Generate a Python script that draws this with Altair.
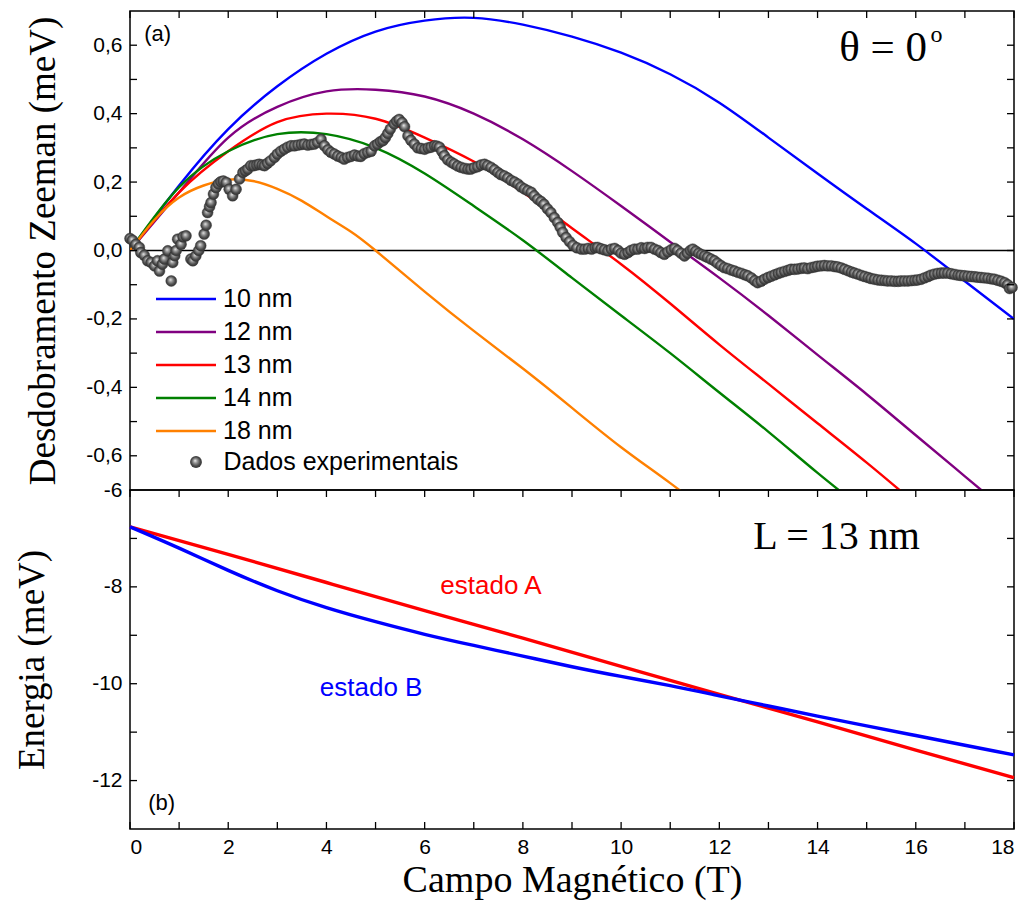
import altair as alt
import pandas as pd

# ---------------- data ----------------
field_T = list(range(19))
zeeman_10nm = [0, 0.19, 0.355, 0.48, 0.575, 0.64, 0.672, 0.68, 0.66, 0.625, 0.578,
               0.515, 0.432, 0.33, 0.225, 0.122, 0.02, -0.09, -0.2]
zeeman_12nm = [0, 0.17, 0.33, 0.42, 0.465, 0.47, 0.45, 0.40, 0.325, 0.232, 0.13,
               0.025, -0.08, -0.19, -0.305, -0.42, -0.54, -0.66, -0.78]
zeeman_13nm = [0, 0.17, 0.29, 0.375, 0.40, 0.385, 0.33, 0.26, 0.17, 0.065, -0.04,
               -0.155, -0.275, -0.39, -0.505, -0.62, -0.74, -0.86, -0.98]
zeeman_14nm = [0, 0.185, 0.29, 0.34, 0.34, 0.30, 0.225, 0.13, 0.03, -0.08, -0.19,
               -0.30, -0.415, -0.53, -0.65, -0.765, -0.88, -0.995, -1.11]
field_18nm = [0, 0.5, 1, 1.5, 2, 2.5, 3, 3.5, 4, 4.5, 5, 6, 7, 8, 9, 10, 11, 12]
zeeman_18nm = [0, 0.09, 0.155, 0.19, 0.207, 0.203, 0.18, 0.145, 0.10, 0.055, 0.0,
               -0.12, -0.235, -0.345, -0.46, -0.575, -0.68, -0.79]

exp_field = [0.00, 0.05, 0.12, 0.19, 0.22, 0.29, 0.36, 0.43, 0.50, 0.56, 0.60, 0.66, 0.70, 0.77,
             0.84, 0.87, 0.91, 0.94, 0.97, 1.04, 1.08, 1.14, 1.24, 1.28, 1.34, 1.40, 1.44, 1.51,
             1.55, 1.58, 1.62, 1.65, 1.70, 1.75, 1.80, 1.85, 1.90, 1.96, 2.02, 2.09, 2.16, 2.23,
             2.30, 2.35, 2.40, 2.46, 2.52, 2.58, 2.63, 2.69, 2.74, 2.80, 2.86, 2.94, 3.00, 3.07,
             3.14, 3.21, 3.28, 3.35, 3.42, 3.49, 3.55, 3.62, 3.69, 3.75, 3.82, 3.89, 3.96, 4.03,
             4.09, 4.16, 4.23, 4.30, 4.36, 4.43, 4.50, 4.57, 4.64, 4.70, 4.77, 4.84, 4.91, 4.98,
             5.04, 5.10, 5.15, 5.20, 5.25, 5.30, 5.38, 5.43, 5.48, 5.54, 5.59, 5.66, 5.72, 5.79,
             5.86, 5.93, 6.00, 6.07, 6.13, 6.20, 6.25, 6.30, 6.35, 6.40, 6.47, 6.54, 6.60, 6.67,
             6.74, 6.81, 6.88, 6.94, 7.01, 7.08, 7.15, 7.22, 7.28, 7.35, 7.42, 7.49, 7.55, 7.62,
             7.69, 7.76, 7.83, 7.90, 7.96, 8.03, 8.10, 8.17, 8.23, 8.30, 8.37, 8.43, 8.50, 8.57,
             8.64, 8.71, 8.76, 8.81, 8.88, 8.95, 9.02, 9.10, 9.19, 9.26, 9.33, 9.40, 9.47, 9.52,
             9.59, 9.66, 9.73, 9.80, 9.87, 9.94, 10.00, 10.07, 10.14, 10.20, 10.27, 10.34, 10.41,
             10.48, 10.54, 10.61, 10.68, 10.75, 10.81, 10.88, 10.95, 11.02, 11.09, 11.15, 11.22,
             11.29, 11.35, 11.41, 11.46, 11.52, 11.58, 11.64, 11.70, 11.76, 11.83, 11.90, 11.96,
             12.03, 12.10, 12.17, 12.24, 12.31, 12.38, 12.45, 12.52, 12.58, 12.65, 12.72, 12.78,
             12.85, 12.92, 12.99, 13.06, 13.13, 13.20, 13.26, 13.33, 13.40, 13.46, 13.53, 13.60,
             13.67, 13.73, 13.80, 13.87, 13.94, 14.00, 14.07, 14.14, 14.21, 14.28, 14.35, 14.41,
             14.48, 14.55, 14.62, 14.69, 14.75, 14.82, 14.89, 14.96, 15.03, 15.09, 15.16, 15.23,
             15.30, 15.37, 15.43, 15.50, 15.57, 15.64, 15.70, 15.77, 15.84, 15.91, 15.98, 16.04,
             16.11, 16.18, 16.25, 16.31, 16.38, 16.45, 16.52, 16.58, 16.65, 16.72, 16.79, 16.86,
             16.92, 16.99, 17.06, 17.13, 17.20, 17.26, 17.33, 17.40, 17.47, 17.54, 17.60, 17.67,
             17.74, 17.81, 17.87, 17.91, 17.96]
exp_zeeman = [0.035, 0.030, 0.018, 0.009, -0.006, -0.014, -0.030, -0.035, -0.045, -0.030, -0.060,
              -0.040, -0.025, -0.001, -0.089, -0.035, -0.015, 0.000, 0.033, 0.018, 0.040, 0.043,
              -0.025, -0.030, -0.016, 0.000, 0.014, 0.048, 0.074, 0.111, 0.128, 0.140, 0.165,
              0.184, 0.195, 0.201, 0.203, 0.199, 0.179, 0.160, 0.179, 0.209, 0.228, 0.233, 0.238,
              0.248, 0.248, 0.250, 0.252, 0.250, 0.248, 0.255, 0.262, 0.272, 0.282, 0.290, 0.296,
              0.302, 0.306, 0.306, 0.308, 0.310, 0.311, 0.308, 0.310, 0.311, 0.316, 0.325, 0.306,
              0.294, 0.287, 0.282, 0.276, 0.272, 0.267, 0.272, 0.275, 0.279, 0.276, 0.275, 0.283,
              0.287, 0.290, 0.306, 0.311, 0.318, 0.321, 0.330, 0.342, 0.355, 0.370, 0.378, 0.383,
              0.374, 0.362, 0.335, 0.322, 0.311, 0.300, 0.298, 0.296, 0.300, 0.302, 0.306, 0.305,
              0.302, 0.290, 0.277, 0.265, 0.258, 0.253, 0.247, 0.243, 0.240, 0.238, 0.238, 0.242,
              0.245, 0.250, 0.252, 0.248, 0.243, 0.236, 0.228, 0.222, 0.218, 0.212, 0.205, 0.200,
              0.194, 0.186, 0.180, 0.175, 0.170, 0.160, 0.150, 0.143, 0.135, 0.122, 0.111, 0.096,
              0.082, 0.068, 0.053, 0.038, 0.026, 0.015, 0.008, 0.004, 0.004, 0.006, 0.004, 0.008,
              0.009, 0.005, 0.002, -0.001, 0.004, 0.006, 0.000, -0.008, -0.011, -0.006, 0.000,
              0.004, 0.004, 0.008, 0.006, 0.009, 0.009, 0.004, 0.000, -0.006, -0.011, -0.004,
              0.002, 0.006, 0.000, -0.008, -0.016, -0.008, 0.000, 0.004, -0.002, -0.008, -0.012,
              -0.016, -0.020, -0.025, -0.030, -0.037, -0.044, -0.050, -0.053, -0.057, -0.060,
              -0.064, -0.067, -0.071, -0.074, -0.080, -0.088, -0.094, -0.090, -0.084, -0.079,
              -0.075, -0.071, -0.067, -0.064, -0.061, -0.058, -0.055, -0.055, -0.054, -0.052,
              -0.051, -0.053, -0.050, -0.048, -0.046, -0.045, -0.044, -0.045, -0.045, -0.047,
              -0.048, -0.051, -0.055, -0.059, -0.063, -0.066, -0.069, -0.073, -0.076, -0.079,
              -0.082, -0.084, -0.086, -0.087, -0.088, -0.089, -0.089, -0.090, -0.090, -0.089,
              -0.089, -0.089, -0.088, -0.087, -0.086, -0.084, -0.080, -0.076, -0.072, -0.069,
              -0.067, -0.066, -0.066, -0.066, -0.068, -0.070, -0.072, -0.073, -0.074, -0.075,
              -0.076, -0.077, -0.078, -0.079, -0.080, -0.081, -0.083, -0.084, -0.087, -0.090,
              -0.094, -0.100, -0.111, -0.108]

field_A = [0, 2, 4, 6, 8, 10, 12, 14, 16, 18]
energia_A = [-6.76, -7.33, -7.91, -8.49, -9.06, -9.64, -10.22, -10.79, -11.37, -11.94]
energia_B = [-6.76, -7.2, -7.66, -8.08, -8.43, -8.72, -8.98, -9.21, -9.43, -9.65, -9.85,
             -10.04, -10.25, -10.46, -10.67, -10.87, -11.07, -11.27, -11.47]

series_names = ["10 nm", "12 nm", "13 nm", "14 nm", "18 nm"]
series_colors = ["#0000ff", "#800080", "#ff0000", "#008000", "#ff8000"]

tick_T = list(range(19))
tick_dE = [-0.6, -0.5, -0.4, -0.3, -0.2, -0.1, 0.0, 0.1, 0.2, 0.3, 0.4, 0.5, 0.6]
tick_E = [-12, -11, -10, -9, -8, -7]
label_T = [0, 2, 4, 6, 8, 10, 12, 14, 16, 18]
label_dE = [-0.6, -0.4, -0.2, 0.0, 0.2, 0.4, 0.6]
label_E = [-12, -10, -8, -6]

# ---------------- tables ----------------
rows = []
for name, xs, ys in zip(series_names,
                        [field_T, field_T, field_T, field_T, field_18nm],
                        [zeeman_10nm, zeeman_12nm, zeeman_13nm, zeeman_14nm, zeeman_18nm]):
    rows += [{"B": x, "dE": y, "serie": name} for x, y in zip(xs, ys)]
curves_df = pd.DataFrame(rows)
exp_df = pd.DataFrame({"B": exp_field, "dE": exp_zeeman, "tipo": "Dados experimentais"})
zero_df = pd.DataFrame({"dE": [0.0]})
tT_df = pd.DataFrame({"B": tick_T})
tdE_df = pd.DataFrame({"dE": tick_dE})
tE_df = pd.DataFrame({"E": tick_E})
A_df = pd.DataFrame({"B": field_A, "E": energia_A})
B_df = pd.DataFrame({"B": field_T, "E": energia_B})

W, H1, H2 = 884, 479, 339
SANS = "Liberation Sans"
SERIF = "Liberation Serif"
MINUS = "\u2212"

xscale = alt.Scale(domain=[0, 18], nice=False, zero=False)
y1scale = alt.Scale(domain=[-0.7, 0.7], nice=False, zero=False)
y2scale = alt.Scale(domain=[-13, -6], nice=False, zero=False)

y1_axis = alt.Axis(values=label_dE,
                   labelExpr=f"replace(replace(format(datum.value, '.1f'), '.', ','), '{MINUS}', '-')",
                   ticks=False, tickSize=0, domain=False, grid=False, labelPadding=8,
                   title="Desdobramento Zeeman (meV)", titleFont=SERIF, titleFontSize=37,
                   titleFontWeight="normal", titleAngle=270, titleX=-76, titleY=H1 / 2,
                   titleAlign="center", titleBaseline="alphabetic")
y2_axis = alt.Axis(values=label_E,
                   labelExpr=f"replace(format(datum.value, 'd'), '{MINUS}', '-')",
                   ticks=False, tickSize=0, domain=False, grid=False, labelPadding=8,
                   title="Energia (meV)", titleFont=SERIF, titleFontSize=37,
                   titleFontWeight="normal", titleAngle=270, titleX=-87, titleY=H2 / 2,
                   titleAlign="center", titleBaseline="alphabetic")
x2_axis = alt.Axis(values=label_T, format="d", ticks=False, tickSize=0, domain=False,
                   grid=False, labelPadding=7,
                   title="Campo Magnético (T)", titleFont=SERIF, titleFontSize=38,
                   titleFontWeight="normal", titleX=W / 2, titleY=62,
                   titleAlign="center", titleBaseline="alphabetic")

X1 = alt.X("B:Q", scale=xscale, axis=None)
Y1 = alt.Y("dE:Q", scale=y1scale, axis=y1_axis)
X2 = alt.X("B:Q", scale=xscale, axis=x2_axis)
Y2 = alt.Y("E:Q", scale=y2scale, axis=y2_axis)

sphere = alt.RadialGradient(
    gradient="radial",
    stops=[alt.GradientStop(color="#eeeeee", offset=0),
           alt.GradientStop(color="#9a9a9a", offset=0.3),
           alt.GradientStop(color="#474747", offset=0.7),
           alt.GradientStop(color="#333333", offset=1)],
    x1=0.42, y1=0.38, r1=0, x2=0.5, y2=0.5, r2=0.55)

# ---------------- top panel ----------------
zero_line = alt.Chart(zero_df).mark_rule(color="black", strokeWidth=1.4).encode(y=Y1)

lines = alt.Chart(curves_df).mark_line(strokeWidth=2.4, clip=True, interpolate="natural").encode(
    x=X1, y=Y1,
    color=alt.Color("serie:N",
                    scale=alt.Scale(domain=series_names, range=series_colors),
                    legend=alt.Legend(title=None, orient="none", legendX=24.5, legendY=271.5,
                                      symbolType="stroke", symbolSize=3600,
                                      symbolStrokeWidth=2.5, rowPadding=0, clipHeight=33,
                                      labelOffset=5.5, labelFont=SANS, labelFontSize=25,
                                      labelColor="black", labelLimit=400, padding=0)),
)

points = alt.Chart(exp_df).mark_point(filled=True, size=120, fill=sphere, stroke="#2a2a2a",
                                      strokeWidth=0.4, opacity=1).encode(
    x=X1, y=Y1,
    shape=alt.Shape("tipo:N", scale=alt.Scale(range=["circle"]),
                    legend=alt.Legend(title=None, orient="none", legendX=0, legendY=438.5,
                                      symbolSize=140, symbolFillColor="#4a4a4a",
                                      symbolStrokeColor="#2a2a2a", symbolStrokeWidth=0.5,
                                      symbolOffset=53.5, labelOffset=15,
                                      labelFont=SANS, labelFontSize=25, labelColor="black",
                                      labelLimit=400, padding=0)),
)

top_ticks = alt.Chart(tT_df).mark_rule(color="black", strokeWidth=1.3).encode(
    x=X1, y=alt.value(0), y2=alt.value(7))
left_ticks1 = alt.Chart(tdE_df).mark_rule(color="black", strokeWidth=1.3).encode(
    y=Y1, x=alt.value(0), x2=alt.value(7))
right_ticks1 = alt.Chart(tdE_df).mark_rule(color="black", strokeWidth=1.3).encode(
    y=Y1, x=alt.value(W - 7), x2=alt.value(W))

label_a = alt.Chart(pd.DataFrame({"B": [0.29], "dE": [0.632], "t": ["(a)"]})).mark_text(
    align="left", baseline="middle", font=SANS, fontSize=22, color="black").encode(
    x=X1, y=Y1, text="t:N")
theta = alt.Chart(pd.DataFrame({"B": [14.44], "dE": [0.553], "t": ["θ = 0"]})).mark_text(
    align="left", baseline="alphabetic", font=SERIF, fontSize=43, color="black").encode(
    x=X1, y=Y1, text="t:N")
theta_sup = alt.Chart(pd.DataFrame({"B": [16.3], "dE": [0.61], "t": ["o"]})).mark_text(
    align="left", baseline="alphabetic", font=SERIF, fontSize=24, color="black").encode(
    x=X1, y=Y1, text="t:N")

top = alt.layer(zero_line, lines, points, top_ticks, left_ticks1, right_ticks1,
                label_a, theta, theta_sup).properties(width=W, height=H1)

# ---------------- bottom panel ----------------
line_A = alt.Chart(A_df).mark_line(color="#ff0000", strokeWidth=3.4,
                                   interpolate="natural").encode(x=X2, y=Y2)
line_B = alt.Chart(B_df).mark_line(color="#0000ff", strokeWidth=3.4,
                                   interpolate="natural").encode(x=X2, y=Y2)

top_ticks2 = alt.Chart(tT_df).mark_rule(color="black", strokeWidth=1.3).encode(
    x=X2, y=alt.value(0), y2=alt.value(7))
bot_ticks2 = alt.Chart(tT_df).mark_rule(color="black", strokeWidth=1.3).encode(
    x=X2, y=alt.value(H2 - 7), y2=alt.value(H2))
left_ticks2 = alt.Chart(tE_df).mark_rule(color="black", strokeWidth=1.3).encode(
    y=Y2, x=alt.value(0), x2=alt.value(7))
right_ticks2 = alt.Chart(tE_df).mark_rule(color="black", strokeWidth=1.3).encode(
    y=Y2, x=alt.value(W - 7), x2=alt.value(W))

txt_A = alt.Chart(pd.DataFrame({"B": [7.35], "E": [-7.98], "t": ["estado A"]})).mark_text(
    align="center", baseline="middle", font=SANS, fontSize=26, color="#ff0000").encode(
    x=X2, y=Y2, text="t:N")
txt_B = alt.Chart(pd.DataFrame({"B": [4.91], "E": [-10.09], "t": ["estado B"]})).mark_text(
    align="center", baseline="middle", font=SANS, fontSize=26, color="#0000ff").encode(
    x=X2, y=Y2, text="t:N")
txt_L = alt.Chart(pd.DataFrame({"B": [12.69], "E": [-7.22], "t": ["L = 13 nm"]})).mark_text(
    align="left", baseline="alphabetic", font=SERIF, fontSize=40, color="black").encode(
    x=X2, y=Y2, text="t:N")
label_b = alt.Chart(pd.DataFrame({"B": [0.37], "E": [-12.46], "t": ["(b)"]})).mark_text(
    align="left", baseline="middle", font=SANS, fontSize=22, color="black").encode(
    x=X2, y=Y2, text="t:N")

bottom = alt.layer(line_A, line_B, top_ticks2, bot_ticks2, left_ticks2, right_ticks2,
                   txt_A, txt_B, txt_L, label_b).properties(width=W, height=H2)

chart = alt.vconcat(top, bottom, spacing=0, bounds="flush").properties(
    padding={"left": 12, "top": 9, "right": 3, "bottom": 17},
    background="white",
).configure_view(stroke="black", strokeWidth=1.5).configure_axis(
    labelFont=SANS, labelFontSize=21, labelColor="black", titleColor="black"
).configure_concat(spacing=0)

chart.save("out.html", embed_options={"renderer": "svg", "actions": False})
